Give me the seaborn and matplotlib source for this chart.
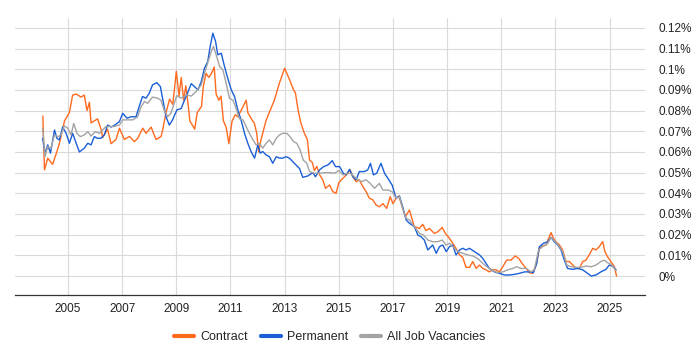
import pandas as pd
import numpy as np
import matplotlib
matplotlib.use("Agg")
import matplotlib.pyplot as plt
import seaborn as sns

# values are in hundredths of a percent (7.7 -> 0.077%)
contract_year = [2004.07, 2004.13, 2004.25, 2004.43, 2004.56, 2004.68, 2004.87, 2005.05, 2005.17, 2005.3,
                 2005.48, 2005.6, 2005.7, 2005.79, 2005.85, 2006.03, 2006.09, 2006.22, 2006.28, 2006.46,
                 2006.59, 2006.77, 2006.9, 2007.08, 2007.27, 2007.45, 2007.57, 2007.76, 2007.88, 2008.07,
                 2008.25, 2008.44, 2008.5, 2008.62, 2008.75, 2008.87, 2009.0, 2009.1, 2009.18, 2009.27,
                 2009.35, 2009.43, 2009.5, 2009.68, 2009.77, 2009.93, 2010.0, 2010.1, 2010.2, 2010.3,
                 2010.4, 2010.47, 2010.57, 2010.65, 2010.74, 2010.84, 2010.94, 2011.06, 2011.18, 2011.27,
                 2011.39, 2011.58, 2011.64, 2011.82, 2011.88, 2011.97, 2012.04, 2012.13, 2012.31, 2012.43,
                 2012.62, 2012.8, 2013.0, 2013.18, 2013.33, 2013.4, 2013.5, 2013.6, 2013.73, 2013.84,
                 2013.92, 2014.02, 2014.1, 2014.19, 2014.29, 2014.41, 2014.51, 2014.66, 2014.78, 2014.9,
                 2015.0, 2015.09, 2015.21, 2015.33, 2015.42, 2015.52, 2015.64, 2015.76, 2015.89, 2016.01,
                 2016.13, 2016.26, 2016.38, 2016.5, 2016.63, 2016.77, 2016.9, 2017.0, 2017.12, 2017.22,
                 2017.34, 2017.46, 2017.61, 2017.79, 2017.98, 2018.1, 2018.22, 2018.35, 2018.53, 2018.66,
                 2018.82, 2018.94, 2019.09, 2019.21, 2019.33, 2019.46, 2019.58, 2019.7, 2019.83, 2019.95,
                 2020.07, 2020.2, 2020.32, 2020.44, 2020.56, 2020.69, 2020.81, 2020.93, 2021.06, 2021.2,
                 2021.36, 2021.52, 2021.65, 2021.77, 2021.92, 2022.04, 2022.16, 2022.29, 2022.41, 2022.53,
                 2022.66, 2022.75, 2022.84, 2022.93, 2023.02, 2023.15, 2023.27, 2023.39, 2023.52, 2023.64,
                 2023.76, 2023.89, 2024.01, 2024.13, 2024.25, 2024.38, 2024.5, 2024.62, 2024.75, 2024.83,
                 2024.93, 2025.05, 2025.18, 2025.26]
contract_val = [7.74, 5.13, 5.7, 5.4, 5.9, 6.4, 7.5, 7.9, 8.75, 8.8,
                8.65, 8.75, 8.0, 8.4, 7.4, 7.55, 7.6, 7.1, 6.7, 7.1,
                6.4, 6.6, 7.15, 6.6, 6.75, 6.5, 6.65, 7.15, 6.9, 7.2,
                6.6, 6.75, 7.1, 7.9, 8.55, 8.3, 9.9, 8.7, 9.6, 8.5,
                9.2, 8.35, 7.5, 7.1, 7.9, 8.2, 9.2, 9.8, 9.6, 9.8,
                10.1, 8.8, 8.5, 8.7, 7.5, 7.2, 6.4, 7.5, 7.8, 7.7,
                8.0, 8.5, 7.9, 7.5, 7.4, 6.9, 6.0, 6.6, 7.5, 7.9,
                8.5, 9.3, 10.05, 9.5, 9.0, 8.85, 8.0, 7.4, 6.9, 6.6,
                5.6, 5.5, 5.1, 5.3, 4.9, 4.65, 4.24, 4.4, 4.08, 4.0,
                4.5, 4.65, 4.8, 4.97, 5.13, 4.8, 4.56, 4.65, 4.32, 4.08,
                3.76, 3.68, 3.43, 3.35, 3.5, 3.27, 3.84, 3.5, 3.76, 3.87,
                3.35, 2.87, 3.19, 2.39, 2.3, 2.5, 2.2, 2.3, 2.06, 2.14,
                2.35, 2.06, 1.82, 1.58, 1.34, 1.02, 0.9, 0.42, 0.42, 0.7,
                0.37, 0.53, 0.37, 0.3, 0.2, 0.3, 0.3, 0.2, 0.45, 0.77,
                0.77, 0.97, 0.85, 0.61, 0.37, 0.16, 0.13, 0.53, 1.34, 1.45,
                1.5, 1.82, 2.1, 1.82, 1.66, 1.5, 1.26, 0.7, 0.7, 0.53,
                0.37, 0.37, 0.7, 0.77, 1.02, 1.34, 1.26, 1.42, 1.66, 1.18,
                0.93, 0.7, 0.45, 0.0]

permanent_year = [2004.06, 2004.15, 2004.25, 2004.35, 2004.5, 2004.59, 2004.68, 2004.8, 2004.93, 2005.05,
                  2005.17, 2005.3, 2005.42, 2005.6, 2005.73, 2005.85, 2005.97, 2006.09, 2006.22, 2006.34,
                  2006.46, 2006.59, 2006.73, 2006.9, 2007.02, 2007.18, 2007.32, 2007.51, 2007.63, 2007.75,
                  2007.88, 2008.0, 2008.12, 2008.28, 2008.41, 2008.49, 2008.62, 2008.74, 2008.86, 2009.02,
                  2009.18, 2009.3, 2009.43, 2009.55, 2009.67, 2009.8, 2009.92, 2010.04, 2010.16, 2010.25,
                  2010.35, 2010.45, 2010.53, 2010.66, 2010.78, 2010.9, 2011.03, 2011.15, 2011.27, 2011.39,
                  2011.52, 2011.64, 2011.76, 2011.89, 2012.01, 2012.1, 2012.19, 2012.32, 2012.44, 2012.56,
                  2012.69, 2012.81, 2012.93, 2013.05, 2013.18, 2013.3, 2013.42, 2013.55, 2013.67, 2013.86,
                  2014.04, 2014.14, 2014.29, 2014.44, 2014.6, 2014.76, 2014.88, 2015.03, 2015.17, 2015.27,
                  2015.4, 2015.52, 2015.64, 2015.76, 2015.95, 2016.07, 2016.17, 2016.28, 2016.4, 2016.56,
                  2016.69, 2016.81, 2016.97, 2017.12, 2017.24, 2017.36, 2017.49, 2017.61, 2017.79, 2017.92,
                  2018.04, 2018.16, 2018.29, 2018.47, 2018.6, 2018.72, 2018.84, 2018.97, 2019.09, 2019.21,
                  2019.33, 2019.46, 2019.58, 2019.7, 2019.83, 2020.01, 2020.2, 2020.32, 2020.44, 2020.56,
                  2020.75, 2020.93, 2021.12, 2021.3, 2021.49, 2021.67, 2021.86, 2022.04, 2022.19, 2022.31,
                  2022.41, 2022.56, 2022.72, 2022.84, 2022.96, 2023.09, 2023.21, 2023.33, 2023.45, 2023.64,
                  2023.82, 2024.01, 2024.19, 2024.32, 2024.5, 2024.68, 2024.87, 2024.99, 2025.11, 2025.24]
permanent_val = [6.66, 5.94, 6.34, 5.94, 7.06, 6.66, 6.58, 7.2, 6.9, 6.42,
                 6.9, 6.42, 6.0, 6.18, 6.42, 6.34, 6.74, 6.66, 6.66, 6.82,
                 7.3, 7.2, 7.3, 7.47, 7.87, 7.63, 7.7, 7.7, 8.2, 8.68,
                 8.6, 8.84, 9.24, 9.35, 9.16, 8.6, 7.7, 7.3, 7.55, 8.03,
                 8.1, 8.5, 8.9, 9.3, 9.16, 9.0, 9.4, 10.05, 10.37, 11.1,
                 11.74, 11.34, 10.7, 10.77, 10.13, 9.56, 9.0, 8.68, 8.03, 7.55,
                 6.9, 6.42, 6.02, 5.7, 6.34, 5.94, 6.02, 5.85, 5.77, 5.45,
                 5.77, 5.7, 5.7, 5.77, 5.7, 5.53, 5.37, 5.2, 4.77, 4.84,
                 5.0, 4.8, 5.13, 5.29, 5.37, 5.58, 5.29, 5.29, 4.97, 4.89,
                 5.16, 4.8, 4.65, 5.05, 5.05, 5.13, 5.45, 4.89, 4.97, 5.45,
                 4.97, 4.73, 4.4, 3.76, 3.87, 3.35, 2.71, 2.55, 2.39, 1.98,
                 1.9, 1.74, 1.26, 1.5, 1.1, 1.42, 1.5, 1.18, 1.42, 1.5,
                 1.02, 1.26, 1.34, 1.26, 1.34, 1.18, 1.02, 0.85, 0.61, 0.37,
                 0.2, 0.13, 0.05, 0.05, 0.08, 0.13, 0.2, 0.2, 0.16, 0.61,
                 1.42, 1.58, 1.66, 1.87, 1.66, 1.5, 1.26, 0.77, 0.37, 0.32,
                 0.37, 0.3, 0.13, 0.0, 0.05, 0.2, 0.32, 0.53, 0.48, 0.3]

all_year = [2004.06, 2004.15, 2004.25, 2004.37, 2004.5, 2004.62, 2004.74, 2004.86, 2004.99, 2005.11,
            2005.21, 2005.33, 2005.45, 2005.6, 2005.73, 2005.85, 2006.0, 2006.16, 2006.28, 2006.4,
            2006.52, 2006.71, 2006.9, 2007.02, 2007.2, 2007.39, 2007.57, 2007.69, 2007.82, 2007.94,
            2008.12, 2008.31, 2008.43, 2008.55, 2008.68, 2008.8, 2008.92, 2009.02, 2009.18, 2009.37,
            2009.55, 2009.73, 2009.92, 2010.04, 2010.16, 2010.29, 2010.37, 2010.47, 2010.6, 2010.72,
            2010.84, 2010.96, 2011.09, 2011.21, 2011.33, 2011.46, 2011.58, 2011.7, 2011.83, 2011.95,
            2012.07, 2012.19, 2012.32, 2012.44, 2012.56, 2012.69, 2012.81, 2012.93, 2013.08, 2013.2,
            2013.33, 2013.45, 2013.57, 2013.69, 2013.82, 2013.92, 2014.1, 2014.29, 2014.47, 2014.66,
            2014.84, 2015.0, 2015.15, 2015.33, 2015.46, 2015.64, 2015.83, 2016.01, 2016.16, 2016.32,
            2016.5, 2016.63, 2016.81, 2016.97, 2017.12, 2017.24, 2017.36, 2017.49, 2017.61, 2017.79,
            2017.98, 2018.13, 2018.29, 2018.47, 2018.66, 2018.82, 2018.97, 2019.09, 2019.21, 2019.4,
            2019.58, 2019.76, 2019.95, 2020.13, 2020.32, 2020.5, 2020.69, 2020.87, 2021.06, 2021.24,
            2021.43, 2021.57, 2021.73, 2021.92, 2022.1, 2022.22, 2022.38, 2022.53, 2022.72, 2022.84,
            2023.0, 2023.15, 2023.27, 2023.42, 2023.58, 2023.76, 2023.95, 2024.13, 2024.32, 2024.5,
            2024.68, 2024.81, 2024.93, 2025.09, 2025.24]
all_val = [7.15, 5.77, 6.26, 6.18, 6.82, 6.74, 6.82, 7.26, 7.15, 6.82,
           7.38, 6.9, 6.74, 6.82, 6.98, 6.77, 6.98, 6.9, 7.06, 7.23,
           7.23, 7.23, 7.3, 7.55, 7.55, 7.55, 7.7, 8.16, 8.44, 8.35,
           8.65, 8.6, 8.5, 8.03, 7.7, 7.87, 8.35, 8.72, 8.6, 8.76,
           8.7, 8.92, 9.24, 9.8, 10.3, 10.85, 11.1, 10.7, 10.13, 9.97,
           9.32, 8.6, 8.5, 8.1, 7.6, 7.55, 7.23, 6.9, 6.58, 6.34,
           6.42, 6.18, 6.42, 6.58, 6.34, 6.66, 6.82, 6.9, 6.9, 6.74,
           6.5, 6.42, 6.1, 5.6, 5.45, 5.05, 4.97, 4.97, 5.0, 5.0,
           4.97, 5.1, 4.89, 4.97, 4.94, 4.73, 4.56, 4.65, 4.48, 4.24,
           4.48, 4.16, 4.16, 4.08, 3.76, 3.84, 3.27, 2.79, 2.71, 2.39,
           2.06, 1.98, 1.74, 1.66, 1.66, 1.74, 1.5, 1.58, 1.42, 1.18,
           1.1, 1.02, 0.97, 0.85, 0.61, 0.42, 0.26, 0.16, 0.2, 0.3,
           0.37, 0.45, 0.37, 0.37, 0.2, 0.3, 1.26, 1.42, 1.58, 1.87,
           1.66, 1.42, 1.18, 0.53, 0.45, 0.42, 0.42, 0.48, 0.45, 0.53,
           0.7, 0.77, 0.64, 0.53, 0.26]

series_names = ["Contract", "Permanent", "All Job Vacancies"]
colors = {"Contract": "#ff6a1f", "Permanent": "#1a5fd6", "All Job Vacancies": "#a3a3a3"}

frames = []
for name, yrs, vals in zip(series_names,
                           [contract_year, permanent_year, all_year],
                           [contract_val, permanent_val, all_val]):
    frames.append(pd.DataFrame({"year": yrs, "pct": np.array(vals) / 100, "series": name}))
df = pd.concat(frames, ignore_index=True)

sns.set_style("white")
plt.rcParams['font.family'] = ['Liberation Sans', 'DejaVu Sans']

fig = plt.figure(figsize=(7, 3.5), dpi=100)
ax = fig.add_axes([0.021, 0.157, 0.9, 0.793])

sns.lineplot(data=df, x="year", y="pct", hue="series", hue_order=series_names,
             palette=colors, estimator=None, sort=True, linewidth=1.0, ax=ax)

ax.set_xlim(2003.03, 2026.3)
ax.set_ylim(-0.0092, 0.125)
ax.set_xticks(list(range(2005, 2026, 2)))
ax.set_xticklabels([str(y) for y in range(2005, 2026, 2)], fontsize=8.5, color="#222222")
yt = [i / 100 for i in range(0, 13)]
ax.set_yticks(yt)
ax.set_yticklabels([f"{v:g}%" for v in yt], fontsize=8.5, color="#222222")
ax.yaxis.tick_right()
ax.tick_params(axis="y", length=0, pad=10)
ax.tick_params(axis="x", length=4, width=0.8, color="#333333", pad=1.5)
ax.grid(True, color="#dadada", linewidth=0.8)
ax.set_xlabel("")
ax.set_ylabel("")
for s in ["top", "left", "right"]:
    ax.spines[s].set_visible(False)
ax.spines["bottom"].set_color("#333333")
ax.spines["bottom"].set_linewidth(0.9)

handles, labels = ax.get_legend_handles_labels()
for h in handles:
    h.set_linewidth(3)
ax.legend(handles, labels, loc="upper center", bbox_to_anchor=(0.5, -0.09), ncol=3,
          frameon=False, fontsize=9, handlelength=1.6, handletextpad=0.5, columnspacing=1.0)

fig.savefig("out.png", dpi=100)
